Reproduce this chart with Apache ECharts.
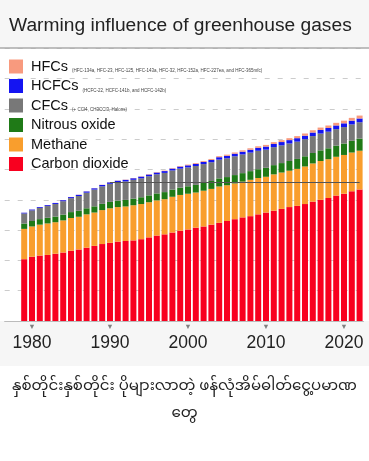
<!DOCTYPE html>
<html>
<head>
<meta charset="utf-8">
<script src="https://cdn.jsdelivr.net/npm/echarts@6/dist/echarts.min.js"></script>
<style>
html,body{margin:0;padding:0;background:#fff;}
#c{width:369px;height:461px;}
</style>
</head>
<body>
<div id="c"></div>
<script>
// ---- data (radiative forcing, W/m²) ----
const years = [1979,1980,1981,1982,1983,1984,1985,1986,1987,1988,1989,1990,1991,1992,1993,1994,1995,1996,1997,1998,1999,2000,2001,2002,2003,2004,2005,2006,2007,2008,2009,2010,2011,2012,2013,2014,2015,2016,2017,2018,2019,2020,2021,2022];
const carbonDioxide = [1.02,1.06,1.08,1.09,1.11,1.13,1.16,1.18,1.21,1.24,1.27,1.29,1.31,1.32,1.33,1.35,1.38,1.41,1.43,1.46,1.49,1.51,1.54,1.56,1.59,1.62,1.65,1.68,1.71,1.73,1.76,1.79,1.82,1.85,1.88,1.90,1.93,1.97,2.00,2.03,2.07,2.10,2.14,2.17];
const methane = [0.50,0.50,0.51,0.52,0.52,0.53,0.54,0.54,0.55,0.55,0.56,0.57,0.57,0.57,0.58,0.58,0.58,0.58,0.58,0.59,0.59,0.59,0.58,0.59,0.59,0.60,0.59,0.59,0.59,0.60,0.60,0.59,0.60,0.60,0.60,0.61,0.62,0.63,0.64,0.64,0.64,0.64,0.64,0.64];
const nitrousOxide = [0.088,0.090,0.091,0.093,0.094,0.096,0.097,0.099,0.100,0.102,0.103,0.105,0.107,0.108,0.110,0.112,0.113,0.115,0.117,0.119,0.121,0.123,0.126,0.128,0.130,0.133,0.135,0.138,0.140,0.143,0.145,0.148,0.152,0.156,0.160,0.164,0.168,0.172,0.176,0.180,0.184,0.189,0.194,0.200];
const cfcs = [0.167,0.176,0.185,0.194,0.208,0.221,0.230,0.244,0.258,0.277,0.290,0.299,0.303,0.306,0.310,0.313,0.316,0.316,0.317,0.315,0.314,0.312,0.312,0.311,0.310,0.310,0.310,0.310,0.309,0.306,0.304,0.300,0.297,0.292,0.289,0.286,0.282,0.279,0.277,0.274,0.272,0.271,0.270,0.270];
const hcfcs = [0.012,0.013,0.014,0.015,0.016,0.017,0.018,0.019,0.020,0.021,0.022,0.023,0.024,0.025,0.026,0.027,0.028,0.029,0.030,0.031,0.033,0.034,0.035,0.037,0.038,0.040,0.041,0.043,0.045,0.047,0.049,0.051,0.053,0.055,0.056,0.057,0.058,0.059,0.060,0.061,0.061,0.062,0.062,0.062];
const hfcs = [0.001,0.001,0.001,0.001,0.001,0.002,0.002,0.002,0.002,0.002,0.003,0.003,0.003,0.004,0.004,0.005,0.006,0.007,0.008,0.009,0.010,0.012,0.013,0.014,0.016,0.017,0.019,0.020,0.022,0.024,0.025,0.027,0.029,0.031,0.032,0.034,0.036,0.038,0.039,0.041,0.043,0.044,0.046,0.048];
const seriesNames = ['Carbon dioxide','Methane','Nitrous oxide','CFCs','HCFCs','HFCs'];
const seriesNotes = {
  'HFCs': '(HFC-134a, HFC-23, HFC-125, HFC-143a, HFC-32, HFC-152a, HFC-227ea, and HFC-365mfc)',
  'HCFCs': '(HCFC-22, HCFC-141b, and HCFC-142b)',
  'CFCs': '(+ CCl4, CH3CCl3, Halons)'
};
const referenceYear = 1990;
const titleText = 'Warming influence of greenhouse gases';
const captionText = 'နှစ်တိုင်းနှစ်တိုင်း ပိုများလာတဲ့ ဖန်လုံအိမ်ဓါတ်ငွေ့ပမာဏ\nတွေ';

// ---- build ----
const colors = ['#f8001f','#f99e2d','#1f7a17','#787878','#1414f2','#f89a7e'];
const valuesList = [carbonDioxide, methane, nitrousOxide, cfcs, hcfcs, hfcs];
const pad = 2; // empty slots at left of axis
const cats = [];
for (let i = 0; i < pad; i++) cats.push('p' + i);
years.forEach(y => cats.push(String(y)));
const refIdx = years.indexOf(referenceYear);
let refLevel = 0;
valuesList.forEach(a => refLevel += a[refIdx]);

const font = '"Liberation Sans", Arial, sans-serif';

const series = seriesNames.map((name, k) => {
  const s = {
    name: name,
    type: 'bar',
    stack: 'total',
    barWidth: 6,
    data: new Array(pad).fill('-').concat(valuesList[k]),
    itemStyle: { color: colors[k] },
    emphasis: { disabled: true },
    silent: true
  };
  if (k === 0) {
    s.markLine = {
      silent: true,
      symbol: 'none',
      label: { show: false },
      lineStyle: { color: '#555', width: 1.2, type: 'solid' },
      data: [[{ coord: [String(referenceYear), refLevel] }, { coord: [String(years[years.length - 1]), refLevel] }]]
    };
  }
  return s;
});

const chart = echarts.init(document.getElementById('c'), null, { renderer: 'canvas' });
chart.setOption({
  animation: false,
  backgroundColor: '#ffffff',
  textStyle: { fontFamily: font },
  title: {
    text: titleText,
    left: 4, top: 11,
    textStyle: { fontSize: 19.2, fontWeight: 'normal', color: '#222', fontFamily: font }
  },
  graphic: [
    { type: 'rect', z: -10, silent: true, shape: { x: 0, y: 0, width: 369, height: 48 }, style: { fill: '#f6f6f6' } },
    { type: 'rect', z: -10, silent: true, shape: { x: 0, y: 321, width: 369, height: 45 }, style: { fill: '#f6f6f6' } },
    { type: 'line', z: 100, silent: true, shape: { x1: 0, y1: 48, x2: 369, y2: 48 }, style: { stroke: '#aaaaaa', lineWidth: 1.5 } },
    { type: 'text', z: 100, silent: true, left: 'center', top: 375,
      style: { text: captionText, font: '15px "Noto Sans Myanmar", Padauk, "Noto Sans", sans-serif', fill: '#222', textAlign: 'center', lineHeight: 27 } }
  ],
  legend: {
    orient: 'vertical',
    left: 9, top: 59, padding: 0,
    itemWidth: 14, itemHeight: 14, itemGap: 4.5,
    icon: 'rect',
    data: seriesNames.slice().reverse(),
    selectedMode: false,
    formatter: name => seriesNotes[name] ? name + ' {s|' + seriesNotes[name] + '}' : name,
    textStyle: {
      fontSize: 14.5, color: '#111', lineHeight: 14, padding: [0, 0, 0, 3], fontFamily: font,
      rich: { s: { fontSize: 4.5, color: '#444', lineHeight: 14, verticalAlign: 'bottom', padding: [4, 0, 0, 0] } }
    }
  },
  grid: { left: 4.7, right: 5.5, top: 48.3, bottom: 140, containLabel: false },
  xAxis: {
    type: 'category',
    data: cats,
    axisLine: { show: true, lineStyle: { color: '#bbbbbb', width: 1 } },
    axisTick: { show: false },
    axisLabel: {
      interval: (i, v) => /^\d+$/.test(v) && (+v) % 10 === 0,
      formatter: v => '{t|▼}\n{y|' + v + '}',
      margin: 2,
      rich: {
        t: { fontSize: 7.5, color: '#808080', lineHeight: 8, align: 'center' },
        y: { fontSize: 17.5, color: '#222', lineHeight: 22, fontFamily: font, align: 'center', padding: [3, 0, 0, 0] }
      }
    }
  },
  yAxis: {
    type: 'value',
    min: 0, max: 4.5, interval: 0.5,
    axisLine: { show: false },
    axisTick: { show: false },
    axisLabel: { show: false },
    splitLine: { show: true, lineStyle: { color: '#cccccc', type: [5, 8], width: 1 } }
  },
  series: series
});
</script>
</body>
</html>
